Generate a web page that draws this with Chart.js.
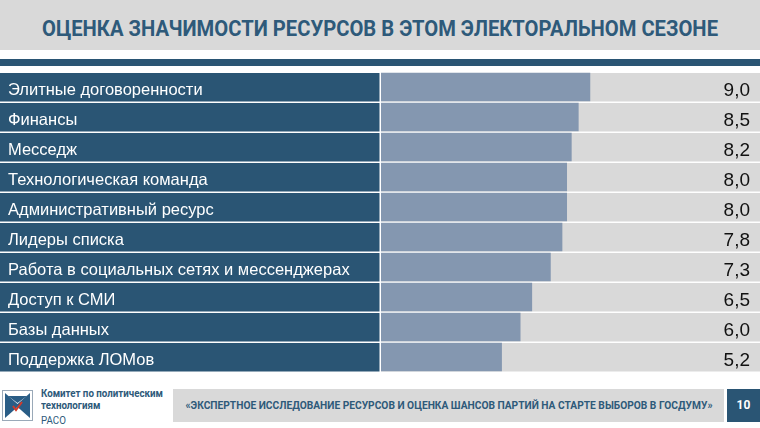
<!DOCTYPE html>
<html lang="ru">
<head>
<meta charset="utf-8">
<script src="https://cdn.jsdelivr.net/npm/chart.js@4.4.1/dist/chart.umd.min.js"></script>
<style>
  html, body { margin: 0; padding: 0; background: #fff; }
  body { width: 760px; height: 428px; position: relative; overflow: hidden; font-family: "Liberation Sans", Arial, sans-serif; }
  #head { position: absolute; left: 0; top: 0; width: 760px; height: 50px; background: #d9d9d9; }
  #title { position: absolute; left: 0; top: 15px; width: 760px; height: 28px; white-space: nowrap;
           font: bold 22px Roboto, sans-serif; color: #2e5a7a; line-height: 28px; }
  #title span, #note span { position: absolute; left: 50%; top: 0; transform-origin: center; }
  #strip { position: absolute; left: 0; top: 59px; width: 760px; height: 7px; background: #2a5574; }
  #wrap { position: absolute; left: 0; top: 72px; width: 760px; height: 300px; }
  #logo { position: absolute; left: 2px; top: 390px; }
  #org { position: absolute; left: 41px; top: 388px; font: bold 11px Roboto, sans-serif; color: #2e5a7a; line-height: 12px; white-space: nowrap; }
  #org div { transform-origin: left center; }
  #org div:last-child { font-weight: normal; margin-top: 3px; }
  #note { position: absolute; left: 173px; top: 389px; width: 551px; height: 33px; background: #d9d9d9;
          white-space: nowrap; font: bold 11px Roboto, sans-serif; color: #2e5a7a; line-height: 33px; }
  #page { position: absolute; left: 727px; top: 389px; width: 33px; height: 33px; background: #2a5574;
          color: #fff; font: bold 12px Roboto, sans-serif; line-height: 33px; text-align: center; }
</style>
</head>
<body>
<div id="head"><div id="title"><span>ОЦЕНКА ЗНАЧИМОСТИ РЕСУРСОВ В ЭТОМ ЭЛЕКТОРАЛЬНОМ СЕЗОНЕ</span></div></div>
<div id="strip"></div>
<div id="wrap"><canvas id="resChart"></canvas></div>
<svg id="logo" width="31" height="31" viewBox="0 0 31 31">
  <rect x="0.5" y="0.5" width="30" height="30" fill="#fff" stroke="#9aa9b8"/>
  <rect x="3" y="3" width="25" height="25" fill="#2a5d86"/>
  <polygon points="3,3 28,3 15.5,14" fill="#fff"/>
  <polygon points="3,28 28,28 15.5,17" fill="#fff"/>
  <polygon points="6,6 25,6 15.5,13" fill="#2a5d86"/>
  <polyline points="11,16 14,20 20,12" fill="none" stroke="#d23a2a" stroke-width="2"/>
</svg>
<div id="org"><div id="org1">Комитет по политическим</div><div>технологиям</div><div>РАСО</div></div>
<div id="note"><span>«ЭКСПЕРТНОЕ ИССЛЕДОВАНИЕ РЕСУРСОВ И ОЦЕНКА ШАНСОВ ПАРТИЙ НА СТАРТЕ ВЫБОРОВ В ГОСДУМУ»</span></div>
<div id="page">10</div>
<script>
// data
const resources = [
  'Элитные договоренности',
  'Финансы',
  'Месседж',
  'Технологическая команда',
  'Административный ресурс',
  'Лидеры списка',
  'Работа в социальных сетях и мессенджерах',
  'Доступ к СМИ',
  'Базы данных',
  'Поддержка ЛОМов'
];
const scores = [9.0, 8.5, 8.2, 8.0, 8.0, 7.8, 7.3, 6.5, 6.0, 5.2];
const scoreLabels = ['9,0', '8,5', '8,2', '8,0', '8,0', '7,8', '7,3', '6,5', '6,0', '5,2'];

// squeeze the condensed headings to the slide width, centred in their box
function fit(sel, w) {
  const el = document.querySelector(sel);
  const r = w / el.getBoundingClientRect().width;
  el.style.transform = 'translateX(-50%) scaleX(' + r + ')';
  return r;
}
fit('#title span', 676);
fit('#note span', 527);
// org block: measure first line as inline, then scale all lines alike
const probe = document.createElement('span');
probe.textContent = document.getElementById('org1').textContent;
probe.style.font = 'bold 11px Roboto, sans-serif';
document.body.appendChild(probe);
const orgScale = 122 / probe.getBoundingClientRect().width;
probe.remove();
document.querySelectorAll('#org div').forEach(d => { d.style.transform = 'scaleX(' + orgScale + ')'; });

const rowBackground = {
  id: 'rowBackground',
  beforeDraw(chart) {
    const { ctx, chartArea, scales: { y } } = chart;
    ctx.save();
    resources.forEach((r, i) => {
      const top = y.getPixelForValue(i) - 15 + 1;
      ctx.fillStyle = '#2a5574';
      ctx.fillRect(0, top, chartArea.left - 1.5, 28.5);
      ctx.fillStyle = '#d9d9d9';
      ctx.fillRect(chartArea.left, top, chartArea.right - chartArea.left, 28.5);
    });
    ctx.restore();
  },
  afterDatasetsDraw(chart) {
    const { ctx, chartArea, scales: { y } } = chart;
    ctx.save();
    ctx.font = '19px "Liberation Sans", Arial, sans-serif';
    ctx.fillStyle = '#111';
    ctx.textAlign = 'right';
    ctx.textBaseline = 'middle';
    scoreLabels.forEach((s, i) => {
      ctx.fillText(s, chartArea.right - 10, y.getPixelForValue(i) + 4);
    });
    ctx.restore();
  }
};

const ctx = document.getElementById('resChart');

const resChart = new Chart(ctx, {
  type: 'bar',
  data: {
    labels: resources,
    datasets: [{
      data: scores,
      backgroundColor: '#8497b0',
      borderWidth: 0,
      barPercentage: 0.95,
      categoryPercentage: 1
    }]
  },
  options: {
    indexAxis: 'y',
    responsive: true,
    maintainAspectRatio: false,
    animation: false,
    layout: { padding: { left: 8, right: 0, top: 0, bottom: 0 } },
    scales: {
      x: {
        display: false,
        min: 0,
        max: 16.3
      },
      y: {
        grid: { display: false },
        border: { display: false },
        afterFit: (scale) => {
          scale.width = 373;
          scale.paddingTop = 0;
          scale.paddingBottom = 0;
        },
        ticks: {
          crossAlign: 'far',
          labelOffset: 3,
          color: '#fff',
          font: { size: 16.5, family: '"Liberation Sans", Arial, sans-serif' }
        }
      }
    },
    plugins: {
      legend: { display: false },
      tooltip: { enabled: false }
    }
  },
  plugins: [rowBackground]
});
</script>
</body>
</html>
